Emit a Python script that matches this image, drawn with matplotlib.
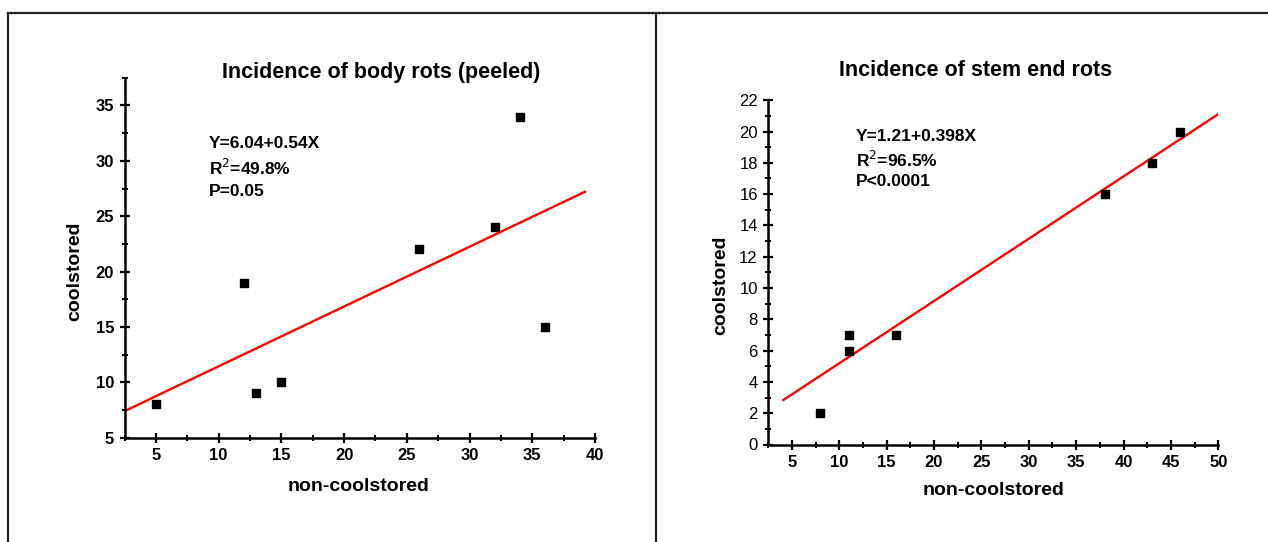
import numpy as np
import matplotlib
matplotlib.use("Agg")
from matplotlib import pyplot as plt
from matplotlib.ticker import MultipleLocator
from matplotlib.lines import Line2D

plt.rcParams['font.family'] = ['Liberation Sans', 'DejaVu Sans']

##################################################
# Data

body_x = [5, 12, 13, 15, 26, 32, 34, 36]
body_y = [8, 19, 9, 10, 22, 24, 34, 15]
body_fit = (6.04, 0.54)
body_text = ["Y=6.04+0.54X", "R$^{2}$=49.8%", "P=0.05"]

stem_x = [8, 11, 11, 16, 38, 43, 46]
stem_y = [2, 7, 6, 7, 16, 18, 20]
stem_fit = (1.21, 0.398)
stem_text = ["Y=1.21+0.398X", "R$^{2}$=96.5%", "P<0.0001"]

W, H = 1268, 542


def box(l, t, r, b):
    # pixel box -> figure fraction
    return [l / W, 1 - b / H, (r - l) / W, (b - t) / H]


def ftext(x, y, s, **kw):
    # text placed by pixel position (from top-left)
    fig.text(x / W, 1 - y / H, s, fontweight='bold', **kw)


fig = plt.figure(figsize=(W / 100, H / 100), dpi=100)

# table frame lines
for xs, ys in [([8, W], [13, 13]), ([8, 8], [13, H]), ([656, 656], [13, H])]:
    fig.add_artist(Line2D([x / W for x in xs], [1 - y / H for y in ys],
                          color='#222222', lw=1.6))


def panel(rect, xs, ys, fit, fit_range, xlim, ylim, xmaj, ymaj, bold_y=True):
    ax = fig.add_axes(rect)
    ax.scatter(xs, ys, marker='s', s=32, color='black', zorder=3)
    xx = np.array(fit_range)
    ax.plot(xx, fit[0] + fit[1] * xx, color='#ff0000', lw=1.7, zorder=2)
    ax.set_xlim(*xlim)
    ax.set_ylim(*ylim)
    ax.xaxis.set_major_locator(MultipleLocator(xmaj))
    ax.xaxis.set_minor_locator(MultipleLocator(xmaj / 2))
    ax.yaxis.set_major_locator(MultipleLocator(ymaj))
    ax.yaxis.set_minor_locator(MultipleLocator(ymaj / 2))
    for s in ['top', 'right']:
        ax.spines[s].set_visible(False)
    for s in ['left', 'bottom']:
        ax.spines[s].set_linewidth(1.8)
    ax.tick_params(which='major', direction='inout', length=7, width=1.6,
                   labelsize=12, pad=4)
    ax.tick_params(which='minor', direction='inout', length=4, width=1.4)
    for lab in ax.get_xticklabels():
        lab.set_fontweight('bold')
    if bold_y:
        for lab in ax.get_yticklabels():
            lab.set_fontweight('bold')
    return ax


# Incidence of body rots (peeled)
panel(box(124.5, 77.8, 595, 437.6), body_x, body_y, body_fit, (2.5, 39.2),
      (2.5, 40), (5, 37.5), 5, 5)
ftext(381.6, 72.6, 'Incidence of body rots (peeled)', fontsize=15.5, ha='center', va='center')
ftext(359, 486.7, 'non-coolstored', fontsize=14, ha='center', va='center')
ftext(75, 271, 'coolstored', fontsize=14, ha='center', va='center', rotation=90)
for t, y in zip(body_text, [143.5, 168, 191]):
    ftext(209, y, t, fontsize=12.5, ha='left', va='center')

# Incidence of stem end rots
panel(box(768.2, 100.2, 1218.3, 444.5), stem_x, stem_y, stem_fit, (4.1, 50),
      (2.5, 50), (0, 22), 5, 2, bold_y=False)
ftext(975.8, 70.9, 'Incidence of stem end rots', fontsize=15.5, ha='center', va='center')
ftext(993.6, 490.8, 'non-coolstored', fontsize=14, ha='center', va='center')
ftext(721, 285, 'coolstored', fontsize=14, ha='center', va='center', rotation=90)
for t, y in zip(stem_text, [136.5, 160, 182]):
    ftext(855.5, y, t, fontsize=12.5, ha='left', va='center')

plt.savefig('out.png', dpi=100)
